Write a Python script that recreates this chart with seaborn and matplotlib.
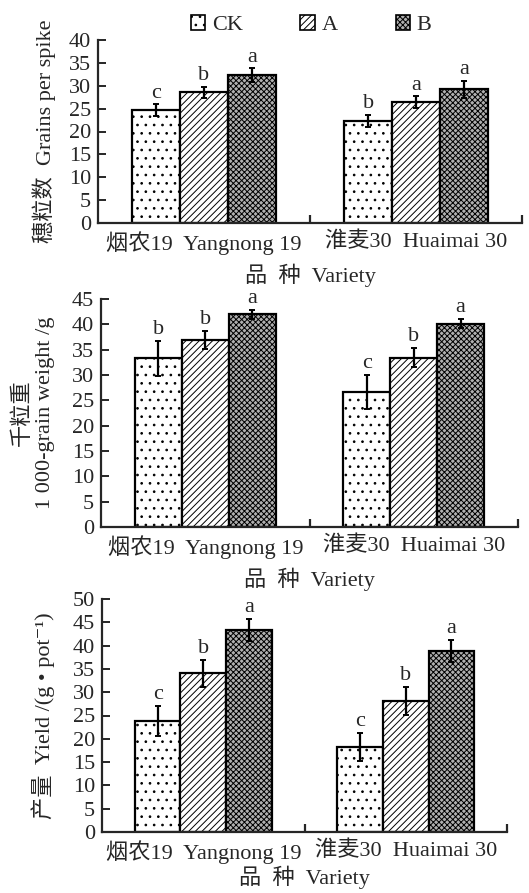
import numpy as np
import pandas as pd
import matplotlib
matplotlib.use("Agg")
import matplotlib.pyplot as plt
from matplotlib.patches import Patch
import seaborn as sns

# ---------------- data ----------------
varieties = ["烟农19  Yangnong 19", "淮麦30  Huaimai 30"]
treatments = ["CK", "A", "B"]

grains_ck = [24.7, 22.3]
grains_a = [28.6, 26.4]
grains_b = [32.3, 29.2]
grains_err_ck = [1.3, 1.4]
grains_err_a = [1.2, 1.3]
grains_err_b = [1.5, 1.9]
grains_let_ck = ["c", "b"]
grains_let_a = ["b", "a"]
grains_let_b = ["a", "a"]

weight_ck = [33.3, 26.6]
weight_a = [36.9, 33.4]
weight_b = [42.0, 40.1]
weight_err_ck = [3.4, 3.4]
weight_err_a = [1.75, 1.9]
weight_err_b = [0.85, 0.9]
weight_let_ck = ["b", "c"]
weight_let_a = ["b", "b"]
weight_let_b = ["a", "a"]

yield_ck = [23.9, 18.2]
yield_a = [34.1, 28.1]
yield_b = [43.3, 38.9]
yield_err_ck = [3.2, 3.0]
yield_err_a = [2.9, 3.0]
yield_err_b = [2.4, 2.4]
yield_let_ck = ["c", "c"]
yield_let_a = ["b", "b"]
yield_let_b = ["a", "a"]

ylabel_grains = "穗粒数  Grains per spike"
ylabel_weight = "千粒重\n1 000-grain weight /g"
ylabel_yield = "产量  Yield /(g • pot⁻¹)"
xlabel_text = "品  种  Variety"

# ---------------- style ----------------
sns.set_theme(style="ticks")
FAM = ["Liberation Serif", "Noto Sans CJK SC", "DejaVu Serif"]
plt.rcParams["font.family"] = FAM
plt.rcParams["hatch.linewidth"] = 0.7
plt.rcParams["axes.linewidth"] = 1.6
FS = 16

fills = {"CK": "white", "A": "white", "B": "#b0b0b0"}
hatches = {"CK": "..", "A": "/////", "B": "xxxxxx"}

W, H = 529, 893
fig = plt.figure(figsize=(W / 100, H / 100), dpi=100)


def px_axes(left, right, top, bottom):
    return fig.add_axes([left / W, 1 - bottom / H, (right - left) / W, (bottom - top) / H])


def make_df(ck, a, b):
    rows = []
    for t, vals in zip(treatments, [ck, a, b]):
        for v, val in zip(varieties, vals):
            rows.append({"variety": v, "treatment": t, "value": val})
    return pd.DataFrame(rows)


def panel(ax, vals, errs, lets, ymax, ylabel, ylabel_x, xlabelpad):
    df = make_df(*vals)
    sns.barplot(data=df, x="variety", y="value", hue="treatment",
                order=varieties, hue_order=treatments,
                palette=[fills[t] for t in treatments],
                width=0.675, errorbar=None, saturation=1,
                edgecolor="black", linewidth=1.6, legend=False, ax=ax)
    for t, cont, err, let in zip(treatments, ax.containers, errs, lets):
        xs, hs = [], []
        for bar in cont:
            bar.set_hatch(hatches[t])
            bar.set_facecolor(fills[t])
            xs.append(bar.get_x() + bar.get_width() / 2)
            hs.append(bar.get_height())
        ax.errorbar(xs, hs, yerr=err, fmt="none", ecolor="black",
                    elinewidth=1.6, capsize=2.5, capthick=1.4, zorder=5)
        for x, h, e, l in zip(xs, hs, err, let):
            ax.text(x, h + e + ymax * 0.008, l, ha="center", va="bottom",
                    fontsize=FS, family=FAM)
    ax.set_xlim(-0.5, 1.5)
    ax.set_ylim(0, ymax)
    ax.set_yticks(np.arange(0, ymax + 1, 5))
    ax.set_xticks([0, 1])
    ax.set_xticklabels(varieties, fontsize=FS, family=FAM)
    ax.set_xticks([0.5, 1.5], minor=True)
    ax.tick_params(axis="x", which="major", length=0, pad=6)
    ax.tick_params(axis="x", which="minor", direction="in", length=6, width=1.6)
    ax.tick_params(axis="y", direction="in", length=6, width=1.4, labelsize=FS, pad=5)
    for lab in ax.get_yticklabels():
        lab.set_family(FAM)
    sns.despine(ax=ax)
    ax.set_xlabel(xlabel_text, fontsize=FS, family=FAM, labelpad=xlabelpad)
    ax.set_ylabel(ylabel, fontsize=FS, family=FAM, linespacing=1.25)
    ax.yaxis.set_label_coords(ylabel_x, 0.5)


ax1 = px_axes(98, 522, 40, 223)
panel(ax1, (grains_ck, grains_a, grains_b),
      (grains_err_ck, grains_err_a, grains_err_b),
      (grains_let_ck, grains_let_a, grains_let_b), 40, ylabel_grains, -0.10, 6)

ax2 = px_axes(101, 518, 299, 527)
panel(ax2, (weight_ck, weight_a, weight_b),
      (weight_err_ck, weight_err_a, weight_err_b),
      (weight_let_ck, weight_let_a, weight_let_b), 45, ylabel_weight, -0.11, 6)

ax3 = px_axes(102, 507, 599, 832)
panel(ax3, (yield_ck, yield_a, yield_b),
      (yield_err_ck, yield_err_a, yield_err_b),
      (yield_let_ck, yield_let_a, yield_let_b), 50, ylabel_yield, -0.115, 1)

handles = [Patch(facecolor=fills[t], edgecolor="black", hatch=hatches[t], linewidth=1.2)
           for t in treatments]
fig.legend(handles, treatments, loc="center", bbox_to_anchor=(0.588, 1 - 25 / H),
           ncol=3, frameon=False, handlelength=0.65, handleheight=0.65,
           handletextpad=0.3, columnspacing=2.6, prop={"family": FAM, "size": FS})

fig.savefig("out.png", dpi=100)
